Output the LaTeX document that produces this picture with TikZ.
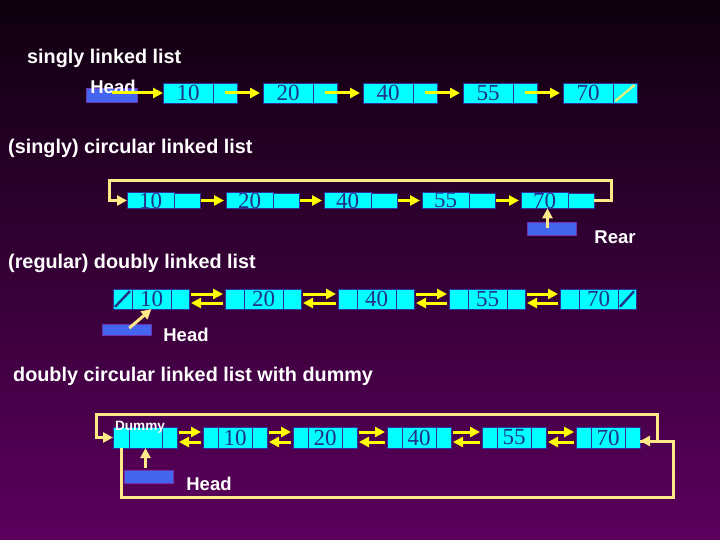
\documentclass[tikz,border=0pt]{standalone}
\usepackage{fontspec}
\setmainfont{Liberation Serif}
\setsansfont{Liberation Sans}
\usepackage{xcolor}
\definecolor{bgTop}    {HTML}{0E000E}
\definecolor{bgMid}    {HTML}{4A004A}
\definecolor{bgBot}    {HTML}{5C005E}
\definecolor{cCyan}    {HTML}{00FFFF}
\definecolor{cEdge}    {HTML}{3030A0}
\definecolor{cNum}     {HTML}{23308A}
\definecolor{cHead}    {HTML}{4466EE}
\definecolor{cHeadEdge}{HTML}{7030B0}
\definecolor{cYel}     {HTML}{FFFF00}
\definecolor{cPale}    {HTML}{FFE888}
\definecolor{cNil}     {HTML}{E0F080}
\usepackage{tikz}
\usetikzlibrary{arrows.meta, positioning}
\tikzset{
  cell/.style    = {rectangle, draw=cEdge, fill=cCyan, line width=0.8pt,
                    inner sep=0pt, outer sep=0pt, minimum width=#1,
                    minimum height=20pt, text=cNum,
                    font=\fontsize{23}{23}\selectfont},
  cell/.default  = 20pt,
  headbox/.style = {rectangle, draw=cHeadEdge, fill=cHead, line width=0.8pt,
                    inner sep=0pt, minimum width=49pt, minimum height=13pt},
  title/.style   = {anchor=west, inner sep=0pt, text=white,
                    font=\sffamily\bfseries\fontsize{19.8}{22}\selectfont},
  lbl/.style     = {inner sep=0pt, text=white,
                    font=\sffamily\bfseries\fontsize{18.5}{20}\selectfont},
  yarr/.style    = {-{Triangle[length=10pt, width=10pt]}, draw=cYel,
                    line width=3pt},
  parr/.style    = {yarr, draw=cPale},
  nil/.style     = {line width=2.4pt, shorten <=3pt, shorten >=3pt},
}

\begin{document}
\begin{tikzpicture}[x=1pt, y=-1pt]

  \useasboundingbox (0,0) rectangle (720,540);
  \shade[top color=bgTop, middle color=bgMid, bottom color=bgBot]
        (0,0) rectangle (720,540);

  % singly linked list
  \node[title] (t1) at (27,58) {singly linked list};
  \node[cell=50pt, anchor=west] (a1) at (163,93) {10};
  \node[cell=24pt, right=0pt of a1] (a1n) {};
  \node[cell=50pt, anchor=west] (a2) at (263,93) {20};
  \node[cell=24pt, right=0pt of a2] (a2n) {};
  \node[cell=50pt, anchor=west] (a3) at (363,93) {40};
  \node[cell=24pt, right=0pt of a3] (a3n) {};
  \node[cell=50pt, anchor=west] (a4) at (463,93) {55};
  \node[cell=24pt, right=0pt of a4] (a4n) {};
  \node[cell=50pt, anchor=west] (a5) at (563,93) {70};
  \node[cell=24pt, right=0pt of a5] (a5n) {};
  \node[headbox, minimum width=51pt, minimum height=14pt] (h1) at (111.5,95) {};
  \node[lbl] (h1l) at (113,87) {Head};

  \draw[yarr] (h1.center |- a1.west) -- (a1.west);
  \draw[yarr, shorten >=3pt] (a1n.center) -- (a2.west);
  \draw[yarr, shorten >=3pt] (a2n.center) -- (a3.west);
  \draw[yarr, shorten >=3pt] (a3n.center) -- (a4.west);
  \draw[yarr, shorten >=3pt] (a4n.center) -- (a5.west);
  \draw[nil, draw=cNil] (a5n.south west) -- (a5n.north east);

  % (singly) circular linked list
  \node[title] (t2) at (8,148) {(singly) circular linked list};
  \begin{scope}[cell/.append style={minimum height=15pt}]
    \node[cell=47pt, anchor=west] (b1) at (127,200.5) {10};
    \node[cell=26pt, right=0pt of b1] (b1n) {};
    \node[cell=47pt, anchor=west] (b2) at (226,200.5) {20};
    \node[cell=26pt, right=0pt of b2] (b2n) {};
    \node[cell=47pt, anchor=west] (b3) at (324,200.5) {40};
    \node[cell=26pt, right=0pt of b3] (b3n) {};
    \node[cell=47pt, anchor=west] (b4) at (422,200.5) {55};
    \node[cell=26pt, right=0pt of b4] (b4n) {};
    \node[cell=47pt, anchor=west] (b5) at (521,200.5) {70};
    \node[cell=26pt, right=0pt of b5] (b5n) {};
  \end{scope}
  \coordinate (bR) at (611,181);
  \coordinate (bL) at (109,181);
  \node[headbox] (r2) at (551.5,228.5) {};
  \node[lbl] (r2l) at (615,237) {Rear};

  \draw[yarr, shorten <=1pt, shorten >=2pt] (b1n.east) -- (b2.west);
  \draw[yarr, shorten <=1pt, shorten >=2pt] (b2n.east) -- (b3.west);
  \draw[yarr, shorten <=1pt, shorten >=2pt] (b3n.east) -- (b4.west);
  \draw[yarr, shorten <=1pt, shorten >=2pt] (b4n.east) -- (b5.west);
  \draw[parr] (b5n.east) -| (bR) -- (bL) |- (b1.west);
  \draw[parr] ([xshift=-4pt]r2.center) -- ([xshift=-4pt]r2.center |- b5.south);

  % (regular) doubly linked list
  \node[title] (t3) at (8,263) {(regular) doubly linked list};
  \node[cell=19pt, anchor=west] (c1p) at (113,299) {};
  \node[cell=39pt, right=0pt of c1p] (c1) {10};
  \node[cell=18pt, right=0pt of c1] (c1n) {};
  \node[cell=19pt, anchor=west] (c2p) at (225,299) {};
  \node[cell=39pt, right=0pt of c2p] (c2) {20};
  \node[cell=18pt, right=0pt of c2] (c2n) {};
  \node[cell=19pt, anchor=west] (c3p) at (338,299) {};
  \node[cell=39pt, right=0pt of c3p] (c3) {40};
  \node[cell=18pt, right=0pt of c3] (c3n) {};
  \node[cell=19pt, anchor=west] (c4p) at (449,299) {};
  \node[cell=39pt, right=0pt of c4p] (c4) {55};
  \node[cell=18pt, right=0pt of c4] (c4n) {};
  \node[cell=19pt, anchor=west] (c5p) at (560,299) {};
  \node[cell=39pt, right=0pt of c5p] (c5) {70};
  \node[cell=18pt, right=0pt of c5] (c5n) {};
  \node[headbox, minimum height=11pt] (h3) at (127,330) {};
  \node[lbl] (h3l) at (186,335) {Head};

  \draw[nil, draw=cNum] (c1p.south west) -- (c1p.north east);
  \draw[nil, draw=cNum] (c5n.south west) -- (c5n.north east);
  \draw[yarr, shorten <=2pt, shorten >=2pt] ([yshift=5pt]c1n.east) -- ([yshift=5pt]c2p.west);
  \draw[yarr, shorten <=2pt, shorten >=2pt] ([yshift=-4pt]c2p.west) -- ([yshift=-4pt]c1n.east);
  \draw[yarr, shorten <=2pt, shorten >=2pt] ([yshift=5pt]c2n.east) -- ([yshift=5pt]c3p.west);
  \draw[yarr, shorten <=2pt, shorten >=2pt] ([yshift=-4pt]c3p.west) -- ([yshift=-4pt]c2n.east);
  \draw[yarr, shorten <=2pt, shorten >=2pt] ([yshift=5pt]c3n.east) -- ([yshift=5pt]c4p.west);
  \draw[yarr, shorten <=2pt, shorten >=2pt] ([yshift=-4pt]c4p.west) -- ([yshift=-4pt]c3n.east);
  \draw[yarr, shorten <=2pt, shorten >=2pt] ([yshift=5pt]c4n.east) -- ([yshift=5pt]c5p.west);
  \draw[yarr, shorten <=2pt, shorten >=2pt] ([yshift=-4pt]c5p.west) -- ([yshift=-4pt]c4n.east);
  \draw[parr, shorten <=3pt] (h3.center) -- (c1.south);

  % doubly circular linked list with dummy
  \node[title] (t4) at (13,376) {doubly circular linked list with dummy};
  \begin{scope}[cell/.append style={minimum height=21pt}]
    \node[cell=16pt, anchor=west] (d0p) at (113,437.5) {};
    \node[cell=33pt, right=0pt of d0p] (d0) {};
    \node[cell=15pt, right=0pt of d0] (d0n) {};
    \node[cell=15pt, anchor=west] (d1p) at (203,437.5) {};
    \node[cell=34pt, right=0pt of d1p] (d1) {10};
    \node[cell=15pt, right=0pt of d1] (d1n) {};
    \node[cell=15pt, anchor=west] (d2p) at (293,437.5) {};
    \node[cell=34pt, right=0pt of d2p] (d2) {20};
    \node[cell=15pt, right=0pt of d2] (d2n) {};
    \node[cell=15pt, anchor=west] (d3p) at (387,437.5) {};
    \node[cell=34pt, right=0pt of d3p] (d3) {40};
    \node[cell=15pt, right=0pt of d3] (d3n) {};
    \node[cell=15pt, anchor=west] (d4p) at (482,437.5) {};
    \node[cell=34pt, right=0pt of d4p] (d4) {55};
    \node[cell=15pt, right=0pt of d4] (d4n) {};
    \node[cell=15pt, anchor=west] (d5p) at (576,437.5) {};
    \node[cell=34pt, right=0pt of d5p] (d5) {70};
    \node[cell=15pt, right=0pt of d5] (d5n) {};
  \end{scope}
  \node[lbl, font=\sffamily\bfseries\fontsize{13.6}{15}\selectfont] (d0l) at (140,427) {Dummy};
  \coordinate (dR) at (657,414);
  \coordinate (dL) at (96,414);
  \coordinate (dB) at (673,497);
  \node[headbox] (h4) at (149,476.5) {};
  \node[lbl] (h4l) at (209,484) {Head};

  \draw[yarr, shorten <=2pt, shorten >=2pt] ([yshift=5.5pt]d0n.east) -- ([yshift=5.5pt]d1p.west);
  \draw[yarr, shorten <=2pt, shorten >=2pt] ([yshift=-4.5pt]d1p.west) -- ([yshift=-4.5pt]d0n.east);
  \draw[yarr, shorten <=2pt, shorten >=2pt] ([yshift=5.5pt]d1n.east) -- ([yshift=5.5pt]d2p.west);
  \draw[yarr, shorten <=2pt, shorten >=2pt] ([yshift=-4.5pt]d2p.west) -- ([yshift=-4.5pt]d1n.east);
  \draw[yarr, shorten <=2pt, shorten >=2pt] ([yshift=5.5pt]d2n.east) -- ([yshift=5.5pt]d3p.west);
  \draw[yarr, shorten <=2pt, shorten >=2pt] ([yshift=-4.5pt]d3p.west) -- ([yshift=-4.5pt]d2n.east);
  \draw[yarr, shorten <=2pt, shorten >=2pt] ([yshift=5.5pt]d3n.east) -- ([yshift=5.5pt]d4p.west);
  \draw[yarr, shorten <=2pt, shorten >=2pt] ([yshift=-4.5pt]d4p.west) -- ([yshift=-4.5pt]d3n.east);
  \draw[yarr, shorten <=2pt, shorten >=2pt] ([yshift=5.5pt]d4n.east) -- ([yshift=5.5pt]d5p.west);
  \draw[yarr, shorten <=2pt, shorten >=2pt] ([yshift=-4.5pt]d5p.west) -- ([yshift=-4.5pt]d4n.east);
  \draw[parr] ([yshift=-3.5pt]d5n.east) -| (dR) -- (dL) |- (d0p.west);
  \draw[parr] (d0p.south) |- (dB) |- ([yshift=-3.5pt]d5n.east);
  \draw[parr, shorten <=2pt] (d0.south |- h4.north) -- (d0.south);

\end{tikzpicture}
\end{document}
